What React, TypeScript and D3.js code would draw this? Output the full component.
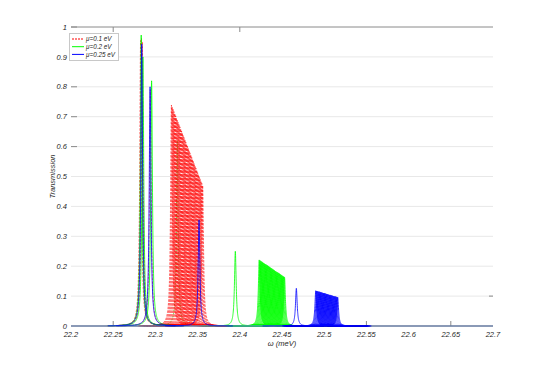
import React from "react";
import * as d3 from "d3";

// ---- data ----
const xTicks = [22.2, 22.25, 22.3, 22.35, 22.4, 22.45, 22.5, 22.55, 22.6, 22.65, 22.7];
const yTicks = [0, 0.1, 0.2, 0.3, 0.4, 0.5, 0.6, 0.7, 0.8, 0.9, 1];
const seriesNames = ["\u03bc=0.1 eV", "\u03bc=0.2 eV", "\u03bc=0.25 eV"];

// resonance peaks: centres (meV) and peak transmission
const redPeakX = [22.2825, 22.2835, 22.2845, 22.294];
const redPeakY = [0.955, 0.963, 0.95, 0.79];
const redBandX = [22.319, 22.320, 22.321, 22.322, 22.323, 22.324, 22.325, 22.326, 22.327, 22.328,
  22.329, 22.330, 22.331, 22.332, 22.333, 22.334, 22.335, 22.336, 22.337, 22.338,
  22.339, 22.340, 22.341, 22.342, 22.343, 22.344, 22.345, 22.346, 22.347, 22.348,
  22.349, 22.350, 22.351, 22.352, 22.353, 22.354, 22.355, 22.356];
const redBandY = [0.739, 0.732, 0.725, 0.717, 0.710, 0.703, 0.695, 0.688, 0.681, 0.674,
  0.666, 0.659, 0.652, 0.645, 0.637, 0.630, 0.623, 0.615, 0.608, 0.601,
  0.594, 0.586, 0.579, 0.572, 0.564, 0.557, 0.550, 0.543, 0.535, 0.528,
  0.521, 0.513, 0.506, 0.499, 0.492, 0.484, 0.477, 0.470];

const greenPeakX = [22.2832, 22.2852, 22.2955, 22.3947];
const greenPeakY = [0.973, 0.90, 0.82, 0.25];
const greenDashX = [22.326];
const greenDashY = [0.62];
const greenBandX = [22.423, 22.424, 22.425, 22.426, 22.427, 22.428, 22.429, 22.430, 22.431, 22.432,
  22.433, 22.434, 22.435, 22.436, 22.437, 22.438, 22.439, 22.440, 22.441, 22.442,
  22.443, 22.444, 22.445, 22.446, 22.447, 22.448, 22.449, 22.450, 22.451, 22.452, 22.453];
const greenBandY = [0.221, 0.219, 0.217, 0.215, 0.213, 0.211, 0.209, 0.207, 0.206, 0.204,
  0.202, 0.200, 0.198, 0.196, 0.194, 0.192, 0.190, 0.188, 0.186, 0.184,
  0.182, 0.180, 0.179, 0.177, 0.175, 0.173, 0.171, 0.169, 0.167, 0.165, 0.163];

const bluePeakX = [22.2838, 22.2937, 22.3517, 22.467];
const bluePeakY = [0.943, 0.80, 0.355, 0.126];
const blueBandX = [22.490, 22.491, 22.492, 22.493, 22.494, 22.495, 22.496, 22.497, 22.498, 22.499,
  22.500, 22.501, 22.502, 22.503, 22.504, 22.505, 22.506, 22.507, 22.508, 22.509,
  22.510, 22.511, 22.512, 22.513, 22.514, 22.515, 22.516];
const blueBandY = [0.118, 0.117, 0.116, 0.115, 0.115, 0.114, 0.113, 0.112, 0.111, 0.110,
  0.110, 0.109, 0.108, 0.107, 0.106, 0.105, 0.104, 0.104, 0.103, 0.102,
  0.101, 0.100, 0.099, 0.099, 0.098, 0.097, 0.096];

const GAMMA = 0.0012; // Lorentzian half width (meV)

const W = 545, H = 367;
const M = { left: 71, right: 493, top: 27, bottom: 326 };
const FONT = "'Liberation Sans', Arial, Helvetica, sans-serif";

function lorentz(c: number, h: number): [number, number][] {
  const pts: [number, number][] = [];
  const step = 0.0001;
  for (let k = -400; k <= 400; k++) {
    const t = c + k * step;
    const d = t - c;
    pts.push([t, (h * GAMMA * GAMMA) / (GAMMA * GAMMA + d * d)]);
  }
  return pts;
}

export default function App() {
  const x = d3.scaleLinear().domain([22.2, 22.7]).range([M.left, M.right]);
  const y = d3.scaleLinear().domain([0, 1]).range([M.bottom, M.top]);
  const line = d3.line<[number, number]>().x((d) => x(d[0])).y((d) => y(d[1]));

  const curves = (xs: number[], ys: number[]) => xs.map((c, i) => line(lorentz(c, ys[i])) as string);

  const redPaths = [...curves(redPeakX, redPeakY), ...curves(redBandX, redBandY)];
  const greenPaths = [...curves(greenPeakX, greenPeakY), ...curves(greenBandX, greenBandY)];
  const greenDash = curves(greenDashX, greenDashY);
  const bluePaths = [...curves(bluePeakX, bluePeakY), ...curves(blueBandX, blueBandY)];
  const baseline = line([[22.2, 0], [22.7, 0]]) as string;

  const tickColor = "#8a8a8a";
  const labelColor = "#262626";
  const legendRows = [
    { name: seriesNames[0], color: "#ff0000", dash: "2,1" },
    { name: seriesNames[1], color: "#00ff00", dash: "" },
    { name: seriesNames[2], color: "#0000ff", dash: "" },
  ];

  return (
    <svg width={W} height={H} style={{ position: "absolute", left: 0, top: 0, background: "#fff" }}>
      <defs>
        <clipPath id="plot">
          <rect x={M.left} y={M.top - 1} width={M.right - M.left} height={M.bottom - M.top + 2} />
        </clipPath>
      </defs>
      {/* grid */}
      {yTicks.slice(1, -1).map((t) => (
        <line key={"g" + t} x1={M.left} x2={M.right} y1={y(t)} y2={y(t)} stroke="#e8e8e8" strokeWidth={1} />
      ))}
      {/* box top */}
      <line x1={M.left} x2={M.right} y1={y(1)} y2={y(1)} stroke={tickColor} strokeWidth={1} />
      {/* ticks */}
      {[22.25, 22.55, 22.65].map((t) => (
        <line key={"bt" + t} x1={x(t)} x2={x(t)} y1={M.bottom} y2={M.bottom - 5} stroke={tickColor} />
      ))}
      {[22.25, 22.4].map((t) => (
        <line key={"tt" + t} x1={x(t)} x2={x(t)} y1={M.top} y2={M.top + 5} stroke={tickColor} />
      ))}
      {[0.6, 0.7, 0.8, 1].map((t) => (
        <line key={"lt" + t} x1={M.left} x2={M.left + 6} y1={y(t)} y2={y(t)} stroke={tickColor} />
      ))}
      <line x1={M.right - 4} x2={M.right} y1={y(0.1)} y2={y(0.1)} stroke={tickColor} />

      {/* data */}
      <g clipPath="url(#plot)" fill="none">
        <path d={baseline} stroke="#ff0000" strokeWidth={0.7} />
        {greenDash.map((d, i) => (
          <path key={"gd" + i} d={d} stroke="#00ff00" strokeWidth={0.7} strokeDasharray="1.5,1.5" />
        ))}
        {redPaths.map((d, i) => (
          <path key={"r" + i} d={d} stroke="#ff0000" strokeWidth={0.6} strokeDasharray="2.5,1.2" />
        ))}
        <path d={baseline} stroke="#00ff00" strokeWidth={0.7} />
        {greenPaths.map((d, i) => (
          <path key={"g" + i} d={d} stroke="#00ff00" strokeWidth={0.8} />
        ))}
        <path d={baseline} stroke="#6f6fff" strokeWidth={1.2} />
        {bluePaths.map((d, i) => (
          <path key={"b" + i} d={d} stroke="#0000ff" strokeWidth={0.8} />
        ))}
      </g>

      {/* tick labels */}
      <g fontFamily={FONT} fontStyle="italic" fontSize={7.5} fill={labelColor}>
        {xTicks.map((t) => (
          <text key={"xl" + t} x={x(t)} y={M.bottom + 11} textAnchor="middle">
            {String(t)}
          </text>
        ))}
        {yTicks.map((t) => (
          <text key={"yl" + t} x={M.left - 4} y={y(t) + 2.6} textAnchor="end">
            {String(t)}
          </text>
        ))}
        <text x={(M.left + M.right) / 2} y={M.bottom + 20} textAnchor="middle">
          {"\u03c9 (meV)"}
        </text>
        <text transform={`translate(55,${(M.top + M.bottom) / 2}) rotate(-90)`} textAnchor="middle">
          Transmission
        </text>
      </g>

      {/* legend */}
      <g>
        <rect x={69.5} y={33.5} width={49} height={27} fill="#fff" stroke="#c8c8c8" strokeWidth={1} />
        {legendRows.map((r, i) => (
          <g key={"lg" + i}>
            <line x1={72} x2={84} y1={39 + i * 7.7} y2={39 + i * 7.7} stroke={r.color} strokeWidth={1}
              strokeDasharray={r.dash || undefined} />
            <text x={86} y={41.3 + i * 7.7} fontFamily={FONT} fontStyle="italic" fontSize={6.3} fill={labelColor}>
              {r.name}
            </text>
          </g>
        ))}
      </g>
    </svg>
  );
}
